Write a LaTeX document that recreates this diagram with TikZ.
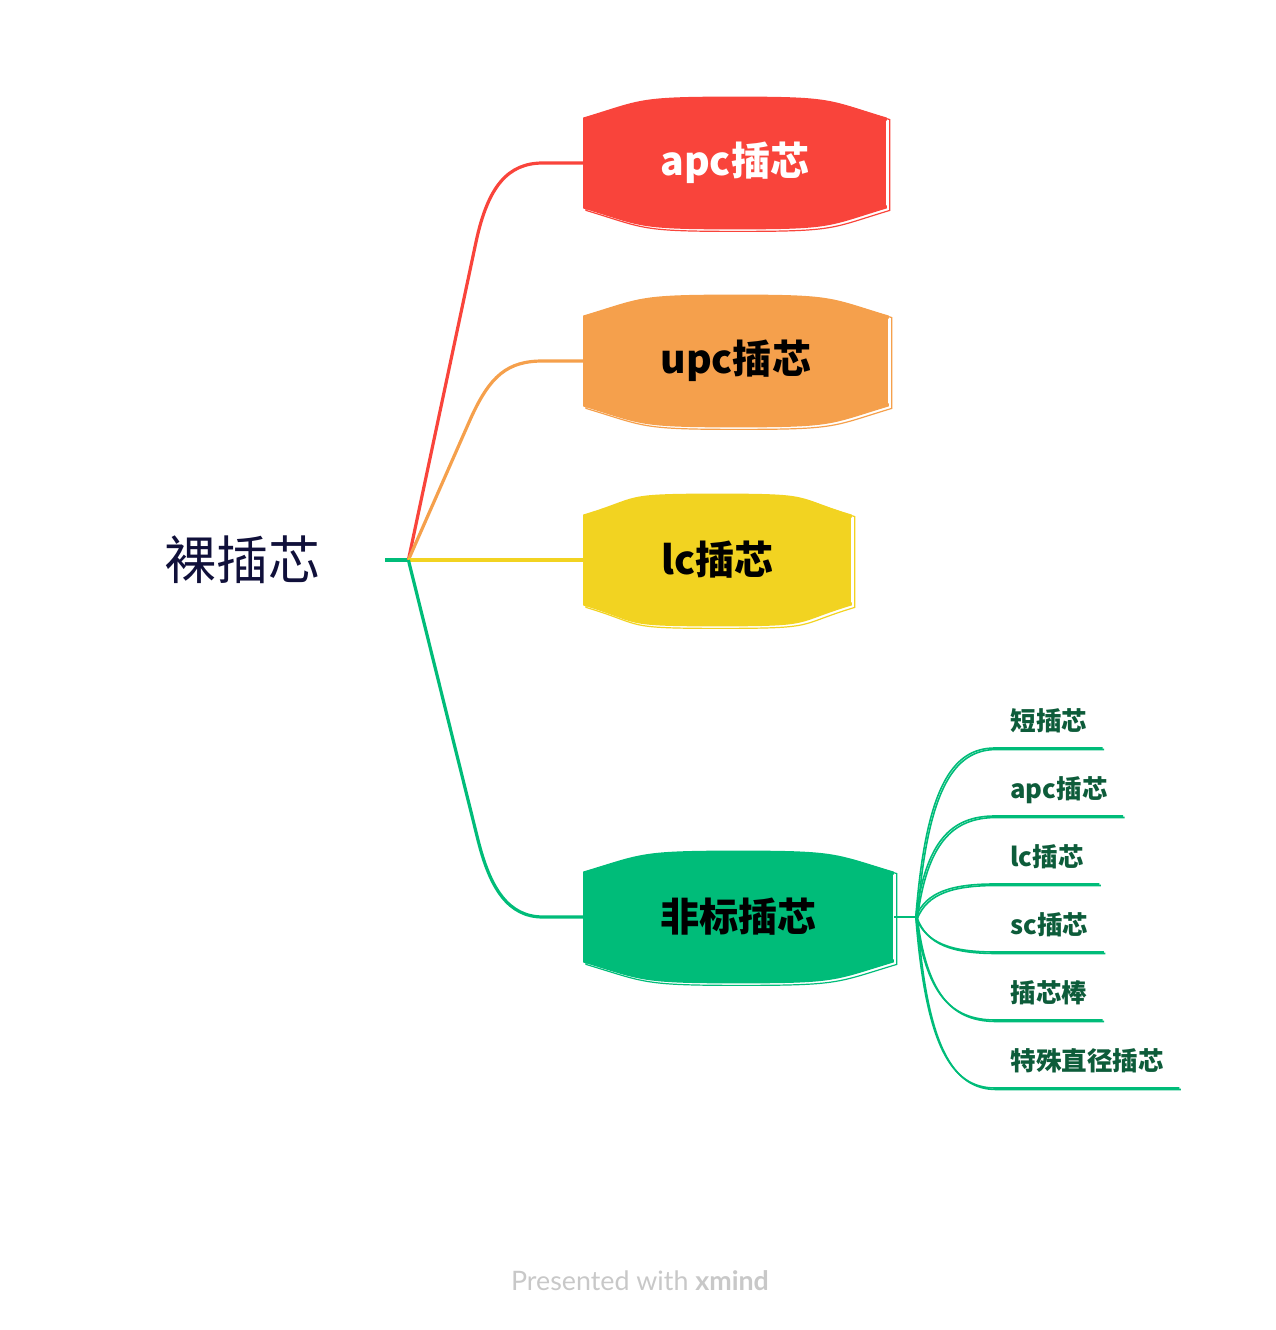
\documentclass[tikz,border=0pt]{standalone}
\usepackage{fontspec}
\setmainfont{Noto Sans CJK SC}
\newfontfamily\markfont{Lato}
\usetikzlibrary{calc,positioning}
\definecolor{TopicRed}{HTML}{F9443B}
\definecolor{TopicOrange}{HTML}{F5A04C}
\definecolor{TopicYellow}{HTML}{F2D321}
\definecolor{TopicGreen}{HTML}{00BC79}
\definecolor{RootInk}{HTML}{10103A}
\definecolor{LeafInk}{HTML}{0D5C3A}
\definecolor{MarkGrey}{HTML}{C8C8C8}

% rounded, bulging topic shape round a named node
\newcommand\topicblob[2]{%
  \fill[#2] (#1.north west) .. controls +(60,18) and +(-100,0) .. ($(#1.north)+(0,21)$)
    .. controls +(100,0) and +(-60,18) .. (#1.north east)
    -- ($(#1.north east)+(0,-3)$) -- ($(#1.north west)+(0,-3)$) -- cycle;
  \fill[#2] (#1.south west) .. controls +(60,-18) and +(-100,0) .. ($(#1.south)+(0,-21)$)
    .. controls +(100,0) and +(-60,-18) .. (#1.south east)
    -- ($(#1.south east)+(0,3)$) -- ($(#1.south west)+(0,3)$) -- cycle;
  \draw[#2, sketch, transform canvas={shift={(3,-2)}}]
    (#1.north west) .. controls +(60,18) and +(-100,0) .. ($(#1.north)+(0,21)$)
    .. controls +(100,0) and +(-60,18) .. (#1.north east) -- (#1.south east)
    .. controls +(-60,-18) and +(100,0) .. ($(#1.south)+(0,-21)$)
    .. controls +(-100,0) and +(60,-18) .. (#1.south west) -- cycle;
}

\begin{document}
\begin{tikzpicture}[
    x=0.5pt, y=0.5pt,
    root/.style={inner sep=0pt, minimum width=143pt, text=RootInk,
      font=\fontsize{26}{30}\selectfont},
    topic/.style={inner sep=0pt, minimum height=45pt, anchor=west,
      font=\fontsize{19.6}{22}\selectfont\bfseries},
    subtopic/.style={inner xsep=7.5pt, inner ysep=6pt, text height=10pt,
      text depth=2.5pt, text=LeafInk, font=\fontsize{12.8}{14}\selectfont\bfseries},
    branch/.style={line width=1.6pt},
    sketch/.style={line width=0.6pt},
    leaf/.style={TopicGreen, line width=0.8pt,
      postaction={draw, transform canvas={shift={(1.5,-1.5)}}}}
  ]
  \useasboundingbox (0,0) rectangle (1276,1330);

  % root and main topics
  \node[root] (root) at (242,770) {裸插芯};
  \coordinate[right=11.5pt of root.east] (fork);

  \node[topic, fill=TopicRed, minimum width=151.5pt, text=white] (apc) at (583,1167) {apc插芯};
  \node[topic, fill=TopicOrange, minimum width=152.5pt] (upc) at (583,969) {upc插芯};
  \node[topic, fill=TopicYellow, minimum width=134pt] (lc) at (583,770) {lc插芯};
  \node[topic, fill=TopicGreen, minimum width=155pt] (fei) at (583,413) {非标插芯};
  \topicblob{apc}{TopicRed}
  \topicblob{upc}{TopicOrange}
  \topicblob{lc}{TopicYellow}
  \topicblob{fei}{TopicGreen}

  \draw[branch, TopicGreen] (root.east) -- (fork);
  \draw[branch, TopicRed] (fork) -- ($(apc.west)+(-107,-79)$)
    .. controls +(12,56) and +(-35,0) .. ($(apc.west)+(-40,0)$) -- (apc.west);
  \draw[branch, TopicOrange] (fork) -- ($(upc.west)+(-113,-59)$)
    .. controls +(20,45) and +(-35,0) .. ($(upc.west)+(-40,0)$) -- (upc.west);
  \draw[branch, TopicYellow] (fork) -- (lc.west);
  \draw[branch, TopicGreen] (fork) -- ($(fei.west)+(-105,77)$)
    .. controls +(12,-48) and +(-35,0) .. ($(fei.west)+(-40,0)$) -- (fei.west);

  % subtopics of fei
  \coordinate[right=11pt of fei.east] (sfork);
  \draw[branch, TopicGreen, line width=1pt] (fei.east) -- (sfork);
  \node[subtopic, anchor=south west] (s1) at (995,582) {短插芯};
  \node[subtopic, below=34pt of s1.south west, anchor=south west] (s2) {apc插芯};
  \node[subtopic, below=34pt of s2.south west, anchor=south west] (s3) {lc插芯};
  \node[subtopic, below=34pt of s3.south west, anchor=south west] (s4) {sc插芯};
  \node[subtopic, below=34pt of s4.south west, anchor=south west] (s5) {插芯棒};
  \node[subtopic, below=34pt of s5.south west, anchor=south west] (s6) {特殊直径插芯};
  \foreach \leafname in {s1,s2,s3,s4,s5,s6} {
    \draw[leaf] let \p1=(sfork), \p2=(\leafname.south west) in
      (sfork) .. controls (\x1+5pt, {\y1+0.75*(\y2-\y1)}) and (\x2-22pt, \y2) .. (\p2)
      -- (\leafname.south east);
  }

  \node[text=MarkGrey, font=\markfont\fontsize{13.4}{15}\selectfont] (mark) at (640,49)
    {Presented with \textbf{xmind}};
\end{tikzpicture}
\end{document}
